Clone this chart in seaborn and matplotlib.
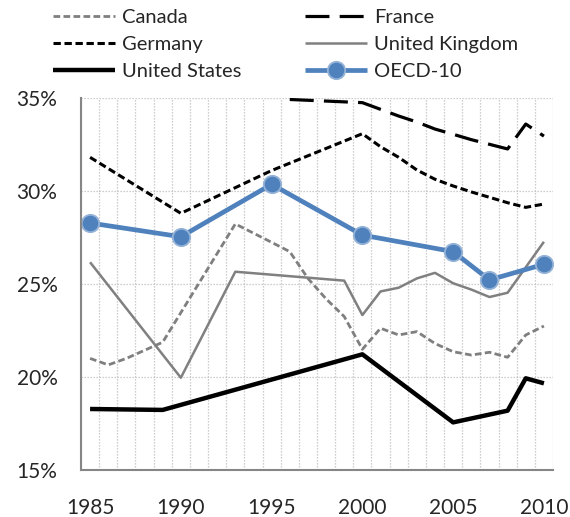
import matplotlib
matplotlib.use("Agg")
import matplotlib.pyplot as plt
from matplotlib.ticker import FixedLocator, FuncFormatter
import seaborn as sns

# Series values (percent), each at the years where it has observations
canada_years = [1985, 1986, 1987, 1989, 1993, 1995, 1996, 1997, 1998, 1999, 2000,
                2001, 2002, 2003, 2004, 2005, 2006, 2007, 2008, 2009, 2010]
canada_vals = [21.0, 20.65, 21.0, 21.87, 28.23, 27.24, 26.74, 25.3, 24.2, 23.25, 21.49,
               22.62, 22.26, 22.44, 21.8, 21.36, 21.18, 21.33, 21.06, 22.26, 22.74]

france_years = [1996, 2000, 2001, 2002, 2003, 2004, 2005, 2006, 2007, 2008, 2009, 2010]
france_vals = [34.92, 34.75, 34.39, 34.03, 33.71, 33.33, 33.05, 32.76, 32.51, 32.26, 33.6, 32.95]

germany_years = [1985, 1990, 1995, 2000, 2001, 2002, 2003, 2004, 2005, 2006, 2007, 2008, 2009, 2010]
germany_vals = [31.81, 28.8, 31.1, 33.08, 32.38, 31.81, 31.13, 30.63, 30.27, 29.95, 29.66, 29.37, 29.12, 29.3]

uk_years = [1985, 1990, 1993, 1999, 2000, 2001, 2002, 2003, 2004, 2005, 2006, 2007, 2008, 2010]
uk_vals = [26.17, 19.96, 25.66, 25.18, 23.33, 24.6, 24.8, 25.3, 25.6, 25.04, 24.7, 24.3, 24.53, 27.27]

us_years = [1985, 1989, 2000, 2005, 2008, 2009, 2010]
us_vals = [18.28, 18.23, 21.22, 17.56, 18.19, 19.93, 19.66]

oecd_years = [1985, 1990, 1995, 2000, 2005, 2007, 2010]
oecd_vals = [28.28, 27.54, 30.36, 27.63, 26.74, 25.22, 26.06]

x_labels = [1985, 1990, 1995, 2000, 2005, 2010]
y_ticks = [15, 20, 25, 30, 35]

sns.set_style("white")
plt.rcParams["font.family"] = ["Lato", "DejaVu Sans"]

W, H = 570, 517
fig = plt.figure(figsize=(W / 100, H / 100), dpi=100)
ax = fig.add_axes([81 / W, 1 - 470 / H, (553 - 81) / W, (470 - 98) / H])

grid_kw = dict(color="#BFBFBF", lw=0.9, ls=(0, (1, 1.4)))
axis_grey = "#868686"

series = [
    ("Canada", canada_years, canada_vals,
     dict(color="#7F7F7F", lw=2.0, ls=(0, (2.4, 1.2)))),
    ("France", france_years, france_vals,
     dict(color="black", lw=2.3, ls=(0, (7.5, 3.2)))),
    ("Germany", germany_years, germany_vals,
     dict(color="black", lw=2.2, ls=(0, (2.4, 1.2)))),
    ("United Kingdom", uk_years, uk_vals,
     dict(color="#808080", lw=1.8, ls="-")),
    ("United States", us_years, us_vals,
     dict(color="black", lw=3.2, ls="-")),
    ("OECD-10", oecd_years, oecd_vals,
     dict(color="#4F81BD", lw=3.4, ls="-", marker="o", markersize=12.5,
          markerfacecolor="#4F81BD", markeredgecolor="#95B3D7", markeredgewidth=1.3)),
]

for name, xs, ys, style in series:
    sns.lineplot(x=xs, y=ys, ax=ax, errorbar=None, label=name, legend=False,
                 solid_capstyle="butt", dash_capstyle="butt", **style)

ax.set_xlim(1984.5, 2010.5)
ax.set_ylim(15, 35)

# category-style x axis: labels at years, tick marks between years
ax.xaxis.set_major_locator(FixedLocator(x_labels))
ax.xaxis.set_minor_locator(FixedLocator([y + 0.5 for y in range(1984, 2011)]))
ax.tick_params(axis="x", which="major", length=0, pad=20, labelsize=15)
ax.tick_params(axis="x", which="minor", direction="in", length=5, width=1.3, color=axis_grey)
ax.xaxis.grid(True, which="minor", **grid_kw)

ax.yaxis.set_major_locator(FixedLocator(y_ticks))
ax.yaxis.set_major_formatter(FuncFormatter(lambda v, p: f"{v:.0f}%"))
ax.tick_params(axis="y", which="major", direction="out", length=6, width=1.3,
               color=axis_grey, pad=11, labelsize=15)
ax.yaxis.grid(True, which="major", **grid_kw)
ax.set_axisbelow(True)

for side in ("top", "right"):
    ax.spines[side].set_visible(False)
for side in ("left", "bottom"):
    ax.spines[side].set_color(axis_grey)
    ax.spines[side].set_linewidth(1.5)
ax.set_xlabel("")
ax.set_ylabel("")

handles, labels = ax.get_legend_handles_labels()
order_cols = [[0, 2, 4], [1, 3, 5]]
anchors_x = [53 / W, 305 / W]
for col, x0 in zip(order_cols, anchors_x):
    fig.legend([handles[i] for i in col], [labels[i] for i in col],
               loc="upper left", bbox_to_anchor=(x0, 1 - 9 / H),
               frameon=False, fontsize=14.5, handlelength=3.1, handletextpad=0.35,
               labelspacing=0.48, borderpad=0, borderaxespad=0)

fig.savefig("out.png", dpi=100)
